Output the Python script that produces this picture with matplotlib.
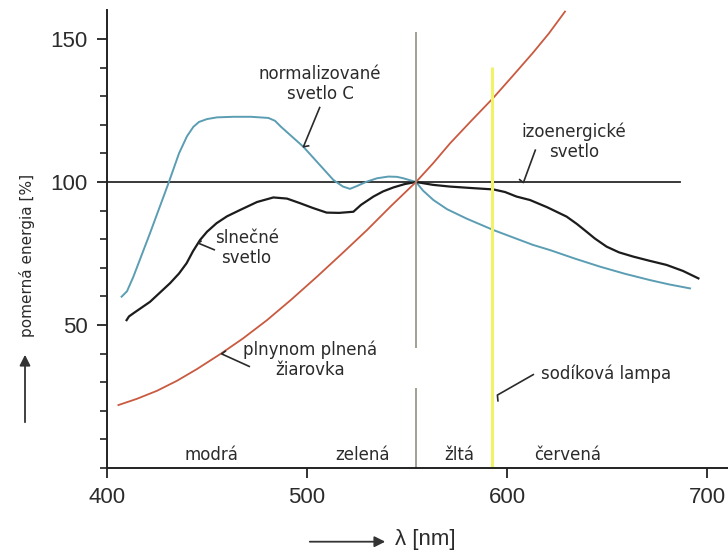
import matplotlib
matplotlib.use("Agg")
import matplotlib.pyplot as plt

# --- data ------------------------------------------------------------------
# plynom plnena ziarovka (red)
wl_bulb = [405.7, 415, 425, 435, 445, 457, 468, 480, 492, 505, 518, 530,
           542, 554.5, 563, 571.5, 582, 593, 603, 613, 621, 629]
val_bulb = [22.0, 24.2, 27.0, 30.5, 34.6, 40.0, 45.3, 51.7, 58.8, 66.9,
            75.3, 83.2, 91.6, 100, 106.5, 113.5, 121.3, 129.3, 137.2,
            145.2, 152.0, 159.6]

# normalizovane svetlo C (blue)
wl_c = [407.3, 410, 413.2, 421.5, 430.7, 436, 440, 443.2, 446, 450, 455,
        463.2, 472, 480.7, 484, 487, 498.2, 513.2, 518, 521.5, 525, 529.8,
        535, 540.7, 545, 548.2, 554.5, 558, 563.2, 570, 579.8, 593.2, 613,
        621.5, 634, 646.5, 659, 671.5, 681, 691.5]
val_c = [59.9, 61.8, 66.9, 82.1, 99.5, 110.0, 116.0, 119.3, 121.0, 122.0,
         122.6, 122.8, 122.8, 122.4, 121.4, 119.3, 112.3, 100.7, 98.4, 97.6,
         98.6, 100.1, 101.3, 101.9, 101.8, 101.3, 100, 97.0, 93.7, 90.5,
         87.2, 83.2, 78.0, 76.2, 73.2, 70.4, 67.9, 65.7, 64.2, 62.8]

# slnecne svetlo (black)
wl_sun = [409.8, 411, 413.2, 421.5, 431.5, 436, 439.8, 443, 446.5, 450,
          454.8, 460, 466.5, 475, 483.2, 490, 496.5, 503, 509.8, 516,
          523.2, 527, 533.2, 538, 543.2, 549, 554.5, 563, 571.5, 582, 593.2,
          599, 604.8, 611.5, 620, 629.8, 635, 639.8, 644, 649.8, 656, 663.2,
          671, 679.8, 688, 695.7]
val_sun = [51.7, 53.0, 54.1, 58.1, 64.6, 68.0, 71.6, 75.8, 79.7, 82.6,
           85.6, 88.0, 90.2, 93.0, 94.6, 94.2, 92.6, 90.9, 89.3, 89.2,
           89.6, 92.0, 94.9, 96.7, 98.1, 99.3, 100, 99.0, 98.4, 97.9, 97.4,
           96.5, 94.9, 93.7, 91.2, 87.9, 85.3, 82.6, 80.2, 77.4, 75.4, 73.9,
           72.5, 71.0, 68.9, 66.3]

# izoenergicke svetlo
wl_iso = [400, 686.5]
val_iso = [100, 100]

# vertical marks
wl_ref = 554.5          # reference wavelength (gray line)
wl_sodium = 592.7       # sodikova lampa (yellow line)

regions = ["modrá", "zelená", "žltá", "červená"]
region_wl = [452.3, 528, 576, 630.5]

xticks = [400, 500, 600, 700]
yticks = [50, 100, 150]

plt.rcParams['font.family'] = ['Liberation Sans', 'DejaVu Sans']

fig = plt.figure(figsize=(7.28, 5.56), dpi=100)
ax = fig.add_axes([107/728, 88/556, 621/728, 457.6/556])
ax.set_xlim(400, 710.5)
ax.set_ylim(0, 160)

txt = '#2b2b2b'
ax.plot(wl_iso, val_iso, color='#2a2a2a', lw=1.3)
ax.plot(wl_c, val_c, color='#5b9db3', lw=1.4)
ax.plot(wl_sun, val_sun, color='#1c1c1c', lw=1.6)
ax.plot(wl_bulb, val_bulb, color='#c95a40', lw=1.3)

ax.vlines(wl_ref, 41.8, 152.6, color='#909082', lw=1.2)
ax.vlines(wl_ref, 0, 27.9, color='#909082', lw=1.2)
ax.vlines(wl_sodium, 0, 140.3, color='#f1f265', lw=2.2)

# axes look
for s in ['top', 'right']:
    ax.spines[s].set_visible(False)
for s in ['left', 'bottom']:
    ax.spines[s].set_linewidth(1.4)
    ax.spines[s].set_color('#222222')

ax.set_xticks(xticks)
ax.set_yticks(yticks)
ax.set_yticks([v for v in range(0, 150, 10) if v not in yticks], minor=True)
ax.tick_params(axis='both', which='major', direction='out', length=7,
               width=1.3, pad=7, labelsize=16, colors='#222222',
               labelcolor=txt)
ax.tick_params(axis='y', which='minor', direction='out', length=5,
               width=1.2, colors='#222222')

# annotations (DejaVu looks close to the book font)
af = dict(family='DejaVu Sans', fontsize=12, color=txt, ha='center',
          va='center', linespacing=1.15)
ax.text(506.5, 134.4, "normalizované\nsvetlo C", **af)
ax.text(469.8, 76.9, "slnečné\nsvetlo", **af)
ax.text(633.5, 114.1, "izoenergické\nsvetlo", **af)
ax.text(501.5, 37.8, "plnynom plnená\nžiarovka", **af)
ax.text(649.4, 33.0, "sodíková lampa", **af)
for name, w in zip(regions, region_wl):
    ax.text(w, 4.6, name, **af)

leaders = [
    ([506.5, 498.2, 501.2], [126.3, 112.3, 112.7]),
    ([454.0, 445.7, 447.3], [76.2, 78.6, 79.5]),
    ([614.3, 608.2, 606.0], [111.4, 99.8, 101.0]),
    ([471.5, 457.3, 459.5], [35.4, 39.9, 41.0]),
    ([613.5, 595.2, 595.5], [32.8, 25.5, 23.2]),
]
for lx, ly in leaders:
    ax.plot(lx, ly, color='#2a2a2a', lw=1.2, solid_capstyle='butt')

# axis labels with arrows
fig.text(27/728, 1 - 255/556, "pomerná energia [%]", rotation=90,
         ha='center', va='center', fontsize=11, color=txt,
         family='DejaVu Sans')
arrow = dict(arrowstyle='-|>', color='#333333', lw=1.3, mutation_scale=16)
fig.add_artist(matplotlib.patches.FancyArrowPatch(
    (25/728, 1 - 425/556), (25/728, 1 - 352/556),
    transform=fig.transFigure, **arrow))
fig.add_artist(matplotlib.patches.FancyArrowPatch(
    (307/728, 1 - 541.7/556), (388/728, 1 - 541.7/556),
    transform=fig.transFigure, **arrow))
fig.text(395/728, 1 - 539/556, "λ [nm]", ha='left', va='center',
         fontsize=16, color=txt)

fig.savefig("out.png", dpi=100, facecolor='white')
